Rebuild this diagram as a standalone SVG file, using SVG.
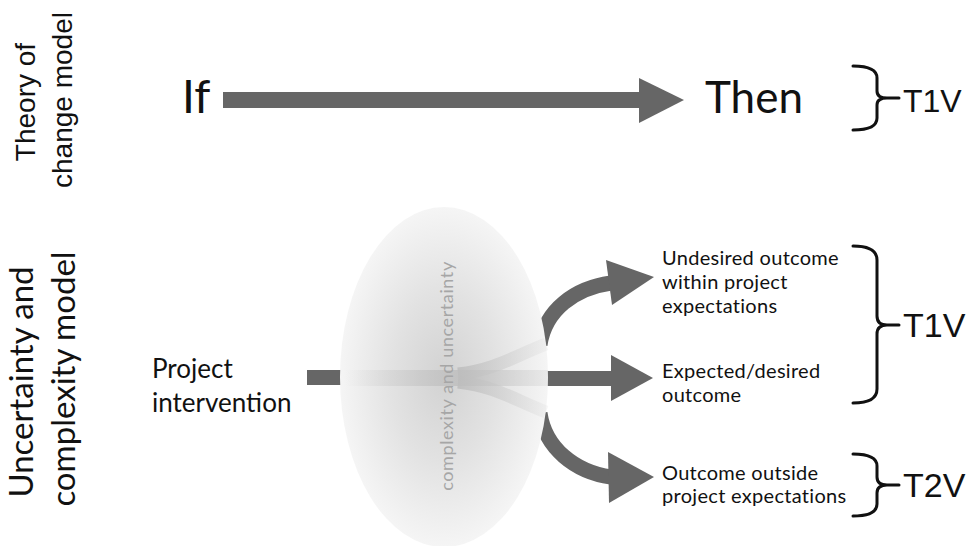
<svg xmlns="http://www.w3.org/2000/svg" width="971" height="546" viewBox="0 0 971 546">
  <style>
    .av { font-family: Lato, "Noto Sans", sans-serif; fill: #111; }
    .hv { font-family: "Liberation Sans", Arial, sans-serif; fill: #111; }
    .arrow { fill: #666; }
    .shaft { fill: none; stroke: #666; stroke-width: 15; }
    .brace { fill: none; stroke: #111; stroke-width: 3; stroke-linecap: round; stroke-linejoin: round; }
  </style>
  <defs>
    <radialGradient id="cloudFill" cx="0.5" cy="0.5" r="0.5">
      <stop offset="0" stop-color="#d2d2d2"/>
      <stop offset="0.5" stop-color="#e2e2e2"/>
      <stop offset="1" stop-color="#f5f5f5"/>
    </radialGradient>
    <linearGradient id="bandFade" gradientUnits="userSpaceOnUse" x1="345" y1="0" x2="548" y2="0">
      <stop offset="0" stop-color="#c4c4c4" stop-opacity="0"/>
      <stop offset="0.6" stop-color="#bcbcbc" stop-opacity="0.85"/>
      <stop offset="1" stop-color="#d8d8d8" stop-opacity="0.4"/>
    </linearGradient>
    <linearGradient id="hornFade" gradientUnits="userSpaceOnUse" x1="455" y1="0" x2="548" y2="0">
      <stop offset="0" stop-color="#bcbcbc" stop-opacity="0.9"/>
      <stop offset="1" stop-color="#d6d6d6" stop-opacity="0.2"/>
    </linearGradient>
  </defs>

  <!-- row labels -->
  <g id="label-theory" class="hv" font-size="28" text-anchor="middle">
    <text transform="translate(35 102) rotate(-90)">Theory of</text>
    <text transform="translate(72 100) rotate(-90)">change model</text>
  </g>
  <g id="label-uncertainty" class="av" font-size="33" text-anchor="middle">
    <text transform="translate(33 382) rotate(-90)">Uncertainty and</text>
    <text transform="translate(75 379) rotate(-90)">complexity model</text>
  </g>

  <!-- theory of change row -->
  <g id="node-if"><text class="av" x="182" y="113" font-size="46">If</text></g>
  <g id="node-then"><text class="av" x="705" y="113" font-size="44">Then</text></g>

  <!-- curved outcome shafts sit below the cloud so its edge trims them -->
  <g id="connectors">
    <rect class="arrow" x="223" y="92" width="418" height="16"/>
    <polygon class="arrow" points="639,78 684,100 639,123"/>

    <path class="shaft" d="M540 345 C545 310 575 288 611 283"/>
    <polygon class="arrow" points="606,260 654,277 612,305"/>

    <rect class="arrow" x="307" y="370" width="35" height="15"/>
    <rect class="arrow" x="545" y="371" width="68" height="15"/>
    <polygon class="arrow" points="611,355 653,378 611,401"/>

    <path class="shaft" d="M540 413 C545 448 575 472 611 477"/>
    <polygon class="arrow" points="608,452 654,477 609,503"/>
  </g>

  <!-- complexity and uncertainty cloud -->
  <g id="node-cloud">
    <ellipse cx="444" cy="377" rx="104" ry="170" fill="url(#cloudFill)"/>
    <rect x="345" y="370" width="203" height="16" fill="url(#bandFade)"/>
    <path d="M458 374 C495 370 515 356 546 344" fill="none" stroke="url(#hornFade)" stroke-width="13"/>
    <path d="M458 382 C495 386 515 400 546 412" fill="none" stroke="url(#hornFade)" stroke-width="13"/>
    <text transform="translate(453 376) rotate(-90)" font-family="Lato, 'Noto Sans', sans-serif" font-size="18" letter-spacing="0.6" fill="#a6a6a6" text-anchor="middle">complexity and uncertainty</text>
  </g>

  <g id="node-project" class="av" font-size="26">
    <text x="152" y="378">Project</text>
    <text x="152" y="412">intervention</text>
  </g>

  <!-- outcomes -->
  <g id="node-undesired" class="av" font-size="20" letter-spacing="0.3">
    <text x="662" y="265">Undesired outcome</text>
    <text x="662" y="289">within project</text>
    <text x="662" y="313">expectations</text>
  </g>
  <g id="node-expected" class="av" font-size="20" letter-spacing="0.3">
    <text x="662" y="378">Expected/desired</text>
    <text x="662" y="402">outcome</text>
  </g>
  <g id="node-outside" class="av" font-size="20" letter-spacing="0.3">
    <text x="662" y="480">Outcome outside</text>
    <text x="662" y="503">project expectations</text>
  </g>

  <!-- brackets -->
  <g id="bracket-top">
    <path class="brace" d="M853 66 Q877 66 877 78 V91 Q877 98 887 98 H899 M853 130 Q877 130 877 118 V105 Q877 98 887 98"/>
    <text class="hv" x="903" y="112" font-size="32">T1V</text>
  </g>
  <g id="bracket-t1v">
    <path class="brace" d="M853 246 Q877 246 877 260 V316 Q877 325 887 325 H899 M853 403 Q877 403 877 389 V334 Q877 325 887 325"/>
    <text class="hv" x="903" y="337" font-size="34">T1V</text>
  </g>
  <g id="bracket-t2v">
    <path class="brace" d="M853 454 Q877 454 877 466 V477 Q877 485 887 485 H899 M853 516 Q877 516 877 504 V493 Q877 485 887 485"/>
    <text class="hv" x="903" y="497" font-size="34">T2V</text>
  </g>
</svg>
